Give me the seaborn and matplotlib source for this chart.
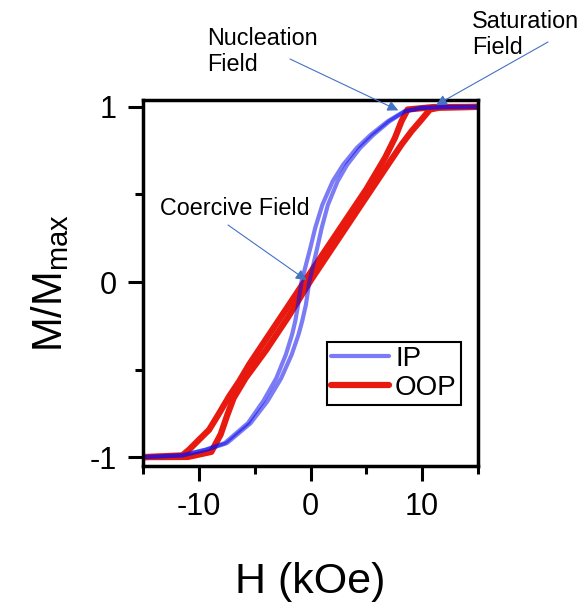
import numpy as np
import pandas as pd
import seaborn as sns
import matplotlib.pyplot as plt
from matplotlib.lines import Line2D

# IP loop (both branches share the M values)
ip_M = [1.0, 0.999, 0.994, 0.975, 0.918, 0.84, 0.766, 0.67, 0.575, 0.44, 0.31, 0.19,
        0.0, -0.13, -0.225, -0.30, -0.415, -0.55, -0.68, -0.806, -0.92, -0.958, -0.99, -1.0]
ip_H_down = [15, 12, 9.88, 8.4, 6.92, 5.38, 4.15, 2.92, 1.98, 1.05, 0.42, -0.04,
             -0.82, -1.12, -1.38, -1.66, -2.22, -3.08, -4.24, -5.62, -7.7, -9.46, -11.52, -15]
ip_H_up = [15, 12, 9.92, 8.5, 7.08, 5.62, 4.45, 3.28, 2.42, 1.55, 1.0, 0.58,
           -0.12, -0.42, -0.76, -1.08, -1.7, -2.64, -3.86, -5.38, -7.5, -9.34, -11.48, -15]

# OOP loop
oop_H_down = [15, 11, 8.7, 8.15, 7.56, 6.67, 5.0, 3.0, 1.0, -0.6, -2.0, -4.0, -5.5,
              -6.4, -7.3, -8.2, -9.1, -10.15, -10.9, -11.5, -15]
oop_M_down = [1.0, 0.999, 0.985, 0.918, 0.823, 0.709, 0.53, 0.34, 0.15, -0.002, -0.136,
              -0.327, -0.47, -0.567, -0.653, -0.75, -0.844, -0.91, -0.958, -0.99, -1.0]
oop_H_up = [-15, -11, -8.9, -8.06, -7.47, -6.9, -5.83, -4.0, -2.0, 0.0, 2.0, 4.0, 5.5,
            7.0, 8.15, 9.05, 9.94, 10.7, 11.5, 15]
oop_M_up = [-1.0, -0.999, -0.97, -0.87, -0.76, -0.663, -0.549, -0.39, -0.199, 0.008,
            0.199, 0.39, 0.533, 0.676, 0.785, 0.861, 0.927, 0.985, 0.995, 1.0]

x_major = [-10, 0, 10]
x_minor = [-15, -5, 5, 15]
y_major = [-1, 0, 1]
y_minor = [-0.5, 0.5]

sns.set_style("ticks", {'text.color': 'black', 'axes.labelcolor': 'black',
                        'xtick.color': 'black', 'ytick.color': 'black'})
plt.rcParams['font.family'] = ['Liberation Sans', 'DejaVu Sans']
plt.rcParams['mathtext.default'] = 'regular'
plt.rcParams['axes.unicode_minus'] = False

fig = plt.figure(figsize=(5.8, 6.09), dpi=100)
ax = fig.add_axes([0.247, 0.235, 0.577, 0.601])

red = '#e8190f'
blue = (15 / 255, 15 / 255, 237 / 255)

sns.lineplot(x=oop_H_down, y=oop_M_down, sort=False, color=red, lw=4.5, ax=ax)
sns.lineplot(x=oop_H_up, y=oop_M_up, sort=False, color=red, lw=4.5, ax=ax)
sns.lineplot(x=ip_H_down, y=ip_M, sort=False, color=blue, alpha=0.55, lw=3, ax=ax)
sns.lineplot(x=ip_H_up, y=ip_M, sort=False, color=blue, alpha=0.55, lw=3, ax=ax)

ax.set_xlim(-15, 15)
ax.set_ylim(-1.05, 1.04)
ax.set_xticks(x_major)
ax.set_xticks(x_minor, minor=True)
ax.set_yticks(y_major)
ax.set_yticks(y_minor, minor=True)
ax.tick_params(which='major', length=11, width=2.2, labelsize=22, pad=8,
               color='black', labelcolor='black')
ax.tick_params(which='minor', length=5.5, width=2.2, color='black')
for s in ax.spines.values():
    s.set_linewidth(2.5)
    s.set_color('black')

ax.set_xlabel('H (kOe)', fontsize=31, color='black')
ax.set_ylabel('M/M$_{max}$', fontsize=30, color='black')
ax.xaxis.set_label_coords(0.5, -0.262)
ax.yaxis.set_label_coords(-0.215, 0.5)

# legend
handles = [Line2D([], [], color=blue, alpha=0.55, lw=3),
           Line2D([], [], color=red, lw=4.5)]
leg = ax.legend(handles, ['IP', 'OOP'], loc='upper left', bbox_to_anchor=(0.549, 0.339),
                borderaxespad=0, fontsize=20, handlelength=2.1, handletextpad=0.2,
                labelspacing=0.1, borderpad=0.15, fancybox=False, framealpha=1)
leg.get_frame().set_edgecolor('black')
leg.get_frame().set_linewidth(1.5)
for t in leg.get_texts():
    t.set_color('black')

# annotations
arrow_color = '#4472c4'
aprops = dict(arrowstyle='-|>', color=arrow_color, lw=0.8, mutation_scale=16,
              shrinkA=0, shrinkB=0)
ax.annotate('', xy=(7.86, 0.98), xytext=(290 / 580, 1 - 59 / 609),
            textcoords='figure fraction', arrowprops=aprops, annotation_clip=False)
ax.annotate('', xy=(11.25, 1.01), xytext=(548 / 580, 1 - 42 / 609),
            textcoords='figure fraction', arrowprops=aprops, annotation_clip=False)
ax.annotate('', xy=(-0.36, 0.01), xytext=(228 / 580, 1 - 225 / 609),
            textcoords='figure fraction', arrowprops=aprops, annotation_clip=False)

fig.text(207 / 580, 1 - 27 / 609, 'Nucleation\nField', fontsize=16.8, va='top', ha='left',
         linespacing=1.15, color='black')
fig.text(472 / 580, 1 - 10.5 / 609, 'Saturation\nField', fontsize=16.8, va='top', ha='left',
         linespacing=1.15, color='black')
fig.text(160 / 580, 1 - 215 / 609, 'Coercive Field', fontsize=16.8, va='baseline', ha='left',
         color='black')

fig.savefig('out.png', dpi=100)
